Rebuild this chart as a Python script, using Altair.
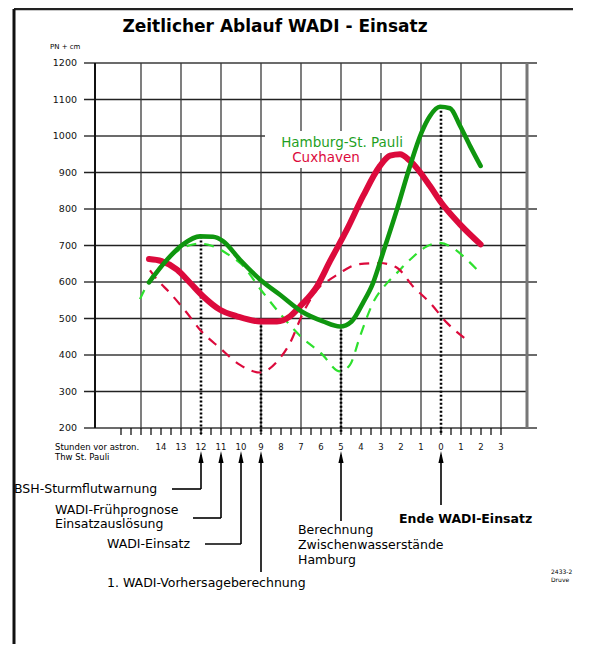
import altair as alt
import pandas as pd

# ---------------- data ----------------
HAMBURG_T = [-14.6, -13.7, -12.9, -12.05, -11.4, -10.9, -10.05, -9.05, -8.05, -6.97, -5.9, -5.05,
             -4.47, -3.9, -3.4, -2.9, -2.2, -1.55, -0.97, -0.55, -0.05, 0.45, 0.95, 1.45, 1.98]
HAMBURG_V = [599, 661, 703, 725, 724, 712, 661, 607, 565, 519, 492, 478,
             492, 543, 597, 680, 799, 918, 1010, 1055, 1080, 1076, 1028, 973, 918]

CUX_T = [-14.6, -13.97, -13.2, -12.55, -11.9, -11.05, -10.2, -9.05, -8.2, -7.55, -7.05, -6.2,
         -5.55, -4.7, -3.9, -3.05, -2.55, -2.05, -1.55, -0.55, -0.05, 0.95, 1.98]
CUX_V = [663, 657, 634, 598, 561, 524, 506, 492, 492, 506, 533, 588,
         657, 744, 835, 918, 946, 950, 932, 863, 822, 758, 703]

HAMBURG_FC_T = [-15.05, -14.55, -13.8, -13.05, -12.05, -11.4, -10.55, -10.0, -9.0, -8.0, -7.0, -6.0,
                -5.05, -4.55, -4.05, -3.4, -2.7, -2.2, -1.55, -0.7, -0.05, 0.6, 1.3, 1.8]
HAMBURG_FC_V = [553, 607, 655, 689, 705, 698, 672, 650, 578, 510, 450, 405,
                355, 373, 451, 543, 597, 625, 661, 698, 707, 693, 661, 634]

CUX_FC_T = [-14.55, -14.2, -13.55, -12.7, -12.05, -11.05, -10.05, -9.05, -8.2, -7.55, -6.9, -6.05,
            -5.55, -5.05, -4.2, -3.05, -2.2, -1.4, -0.55, 0.3, 1.4]
CUX_FC_V = [632, 607, 570, 515, 469, 419, 373, 352, 382, 433, 515, 588,
            607, 625, 648, 652, 639, 588, 543, 488, 437]

Y_TICKS_ODD = [300, 500, 700, 900, 1100]
Y_TICKS_EVEN = [200, 400, 600, 800, 1000, 1200]
Y_LABELS = [200, 300, 400, 500, 600, 700, 800, 900, 1000, 1100, 1200]
GRID_HOURS = [-15, -13, -11, -9, -7, -5, -3, -1, 1, 3]
MINOR_TICKS = [-16, -15.5, -15, -14.5, -14, -13.5, -13, -12.5, -12, -11.5, -11, -10.5, -10, -9.5,
               -9, -8.5, -8, -7.5, -7, -6.5, -6, -5.5, -5, -4.5, -4, -3.5, -3, -2.5, -2, -1.5,
               -1, -0.5, 0, 0.5, 1, 1.5, 2, 2.5, 3]
HOUR_LABEL_T = [-14, -13, -12, -11, -10, -9, -8, -7, -6, -5, -4, -3, -2, -1, 0, 1, 2, 3]
HOUR_LABELS = ["14", "13", "12", "11", "10", "9", "8", "7", "6", "5", "4", "3", "2", "1", "0", "1", "2", "3"]

EVENT_T = [-12, -9, -5, 0]
EVENT_V = [725, 492, 480, 1080]

# ---------------- layout ----------------
W, H = 432, 365
FONT = "DejaVu Sans"
GREEN = "#0f960f"
GREEN_TXT = "#1f9f1f"
LIME = "#2ee02e"
RED = "#dc0a3c"

xs = alt.Scale(domain=[-17.3, 4.3], nice=False, zero=False)
ys = alt.Scale(domain=[200, 1200], nice=False, zero=False)


def X():
    return alt.X("t:Q", scale=xs, axis=None)


def Y():
    return alt.Y("v:Q", scale=ys, axis=None)


one = pd.DataFrame({"a": [0]})


def label(text, x, y, size=12.5, align="left", weight="normal", color="black"):
    return alt.Chart(pd.DataFrame({"s": [text]})).mark_text(
        align=align, baseline="middle", fontSize=size, fontWeight=weight, color=color, font=FONT
    ).encode(x=alt.value(x), y=alt.value(y), text="s:N")


def box(x1, x2, y1, y2):
    return alt.Chart(one).mark_rect(color="white").encode(
        x=alt.value(x1), x2=alt.value(x2), y=alt.value(y1), y2=alt.value(y2))


def hseg(x1, x2, y, width=1.6, color="black"):
    return alt.Chart(one).mark_rule(color=color, strokeWidth=width).encode(
        x=alt.value(x1), x2=alt.value(x2), y=alt.value(y))


def vseg(x, y1, y2, width=2.5, color="black"):
    return alt.Chart(one).mark_rule(color=color, strokeWidth=width).encode(
        x=alt.value(x), y=alt.value(y1), y2=alt.value(y2))


def line_df(ts, vs):
    return pd.DataFrame({"t": ts, "v": vs})


layers = []

# horizontal grid
layers.append(alt.Chart(pd.DataFrame({"v": Y_TICKS_ODD})).mark_rule(color="#222", strokeWidth=1.3).encode(
    y=Y(), x=alt.value(-11), x2=alt.value(W)))
layers.append(alt.Chart(pd.DataFrame({"v": Y_TICKS_EVEN})).mark_rule(color="#3a3a3a", strokeWidth=1.5).encode(
    y=Y(), x=alt.value(-11), x2=alt.value(W + 10)))
# vertical grid
layers.append(alt.Chart(pd.DataFrame({"t": GRID_HOURS})).mark_rule(color="#3a3a3a", strokeWidth=1.3).encode(
    x=X(), y=alt.value(0), y2=alt.value(H)))
# frame
layers.append(vseg(0, 0, H, width=2, color="#111"))
layers.append(vseg(W, 0, H, width=3, color="#777"))

# y labels
layers.append(alt.Chart(pd.DataFrame({"v": Y_LABELS})).mark_text(
    align="right", baseline="middle", fontSize=9.5, font=FONT, color="#111").encode(
    y=Y(), x=alt.value(-18), text=alt.Text("v:Q", format="d")))
# x ticks
layers.append(alt.Chart(pd.DataFrame({"t": MINOR_TICKS})).mark_rule(color="black", strokeWidth=1.2).encode(
    x=X(), y=alt.value(H), y2=alt.value(H + 7)))
layers.append(alt.Chart(pd.DataFrame({"t": HOUR_LABEL_T, "s": HOUR_LABELS})).mark_text(
    align="center", baseline="middle", fontSize=8.5, font=FONT, color="#111").encode(
    x=X(), y=alt.value(384), text="s:N"))
layers.append(label("Stunden vor astron.", -40, 384, size=8.5))
layers.append(label("Thw St. Pauli", -40, 394, size=8.5))
layers.append(label("PN + cm", -45, -16, size=7))

# white boxes behind series labels
layers.append(box(170, 325, 68, 90))
layers.append(box(189, 273, 86, 105))

# dotted event lines
layers.append(alt.Chart(pd.DataFrame({"t": EVENT_T, "v": EVENT_V})).mark_rule(
    color="black", strokeWidth=2.6, strokeDash=[2, 2]).encode(x=X(), y=Y(), y2=alt.value(H + 6)))

# series
layers.append(alt.Chart(line_df(HAMBURG_FC_T, HAMBURG_FC_V)).mark_line(
    color=LIME, strokeWidth=2.2, strokeDash=[10, 8], interpolate="monotone").encode(x=X(), y=Y()))
layers.append(alt.Chart(line_df(CUX_FC_T, CUX_FC_V)).mark_line(
    color=RED, strokeWidth=2.2, strokeDash=[10, 8], interpolate="monotone").encode(x=X(), y=Y()))
layers.append(alt.Chart(line_df(CUX_T, CUX_V)).mark_line(
    color=RED, strokeWidth=6, strokeCap="round", interpolate="monotone").encode(x=X(), y=Y()))
layers.append(alt.Chart(line_df(HAMBURG_T, HAMBURG_V)).mark_line(
    color=GREEN, strokeWidth=4.6, strokeCap="round", interpolate="monotone").encode(x=X(), y=Y()))

# series labels
layers.append(label("Hamburg-St. Pauli", 247, 80, size=13.5, align="center", color=GREEN_TXT))
layers.append(label("Cuxhaven", 231, 95, size=13.5, align="center", color=RED))

# title
layers.append(label("Zeitlicher Ablauf WADI - Einsatz", 180, -36, size=17, align="center", weight="bold"))

# annotation arrows
ARROW = "M0,-1L0.42,1L-0.42,1Z"
arrow_ends = [(-12, 426), (-11, 455), (-10, 481), (-9, 509), (-5, 458), (0, 442)]
for h, yb in arrow_ends:
    d = pd.DataFrame({"t": [h]})
    layers.append(alt.Chart(d).mark_rule(color="black", strokeWidth=1.6).encode(
        x=X(), y=alt.value(392), y2=alt.value(yb)))
    layers.append(alt.Chart(d).mark_point(shape=ARROW, size=150, filled=True, color="black",
                                          opacity=1, strokeWidth=0).encode(x=X(), y=alt.value(394)))

# connectors
for h, x0, y in [(-12, 77, 426), (-11, 98, 455), (-10, 110, 481)]:
    layers.append(alt.Chart(pd.DataFrame({"t": [h]})).mark_rule(color="black", strokeWidth=1.6).encode(
        x=X(), x2=alt.value(x0), y=alt.value(y)))

layers.append(label("BSH-Sturmflutwarnung", -81, 426))
layers.append(label("WADI-Frühprognose", -40, 447))
layers.append(label("Einsatzauslösung", -40, 461))
layers.append(label("WADI-Einsatz", 12, 481))
layers.append(label("1. WADI-Vorhersageberechnung", 12, 520))
layers.append(label("Berechnung", 203, 467))
layers.append(label("Zwischenwasserstände", 203, 482))
layers.append(label("Hamburg", 203, 497))
layers.append(label("Ende WADI-Einsatz", 304, 456, weight="bold"))
layers.append(label("2433-2", 456, 509, size=6))
layers.append(label("Druve", 456, 517, size=6))

# outer page frame
layers.append(hseg(-81, 478, -54, width=2.5, color="#222"))
layers.append(vseg(-81, -54, 581, width=3, color="#111"))

chart = alt.layer(*layers).properties(
    width=W, height=H,
    autosize=alt.AutoSizeParams(type="none"),
    padding={"left": 87, "top": 55, "right": 54, "bottom": 216},
    background="white",
).configure_view(stroke=None)

chart.save("out.html", embed_options={"renderer": "svg", "actions": False})
